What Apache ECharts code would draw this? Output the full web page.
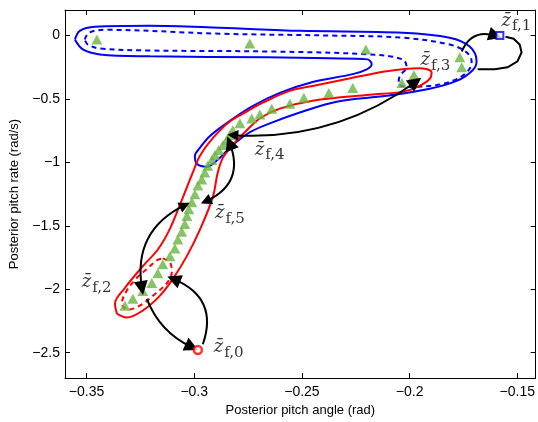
<!DOCTYPE html>
<html>
<head>
<meta charset="utf-8">
<script src="https://cdn.jsdelivr.net/npm/echarts@6/dist/echarts.min.js"></script>
<style>
html, body { margin: 0; padding: 0; background: #fff; }
#chart { width: 538px; height: 422px; }
</style>
</head>
<body>
<div id="chart"></div>
<script>
//刻度
var xTicks = [-0.35, -0.3, -0.25, -0.2, -0.15];
var yTicks = [0, -0.5, -1, -1.5, -2, -2.5];

//绿色三角: 后验样本
var samples = [
    [-0.3452, -0.033], [-0.2742, -0.064], [-0.2203, -0.111], [-0.1767, -0.173],
    [-0.1758, -0.251], [-0.1980, -0.312], [-0.2036, -0.375], [-0.2264, -0.414],
    [-0.2375, -0.453], [-0.2491, -0.491], [-0.2556, -0.538], [-0.2640, -0.577],
    [-0.2695, -0.624], [-0.2733, -0.655], [-0.2788, -0.693], [-0.2821, -0.748],
    [-0.2835, -0.786], [-0.2849, -0.825], [-0.2867, -0.864], [-0.2886, -0.903],
    [-0.2904, -0.942], [-0.2918, -0.981], [-0.2937, -1.027], [-0.2951, -1.081],
    [-0.2965, -1.136], [-0.2983, -1.182], [-0.2997, -1.252], [-0.3011, -1.314],
    [-0.3025, -1.369], [-0.3034, -1.423], [-0.3044, -1.485], [-0.3058, -1.547],
    [-0.3076, -1.609], [-0.3090, -1.679], [-0.3113, -1.741], [-0.3146, -1.803],
    [-0.3169, -1.873], [-0.3197, -1.950], [-0.3239, -2.013], [-0.3285, -2.075],
    [-0.3322, -2.130]
];

//等高线
var blueOuter = [
    [-0.3554, -0.033], [-0.3531, 0.036], [-0.3461, 0.068], [-0.3206, 0.075],
    [-0.2881, 0.060], [-0.2510, 0.036], [-0.2032, 0.021], [-0.1814, -0.018],
    [-0.1721, -0.088], [-0.1689, -0.204], [-0.1707, -0.274], [-0.1782, -0.359],
    [-0.1907, -0.421], [-0.2107, -0.476], [-0.2339, -0.522], [-0.2496, -0.600],
    [-0.2649, -0.693], [-0.2742, -0.763], [-0.2826, -0.872], [-0.2891, -0.980],
    [-0.2942, -1.035], [-0.2988, -1.012], [-0.2997, -0.950], [-0.2974, -0.887],
    [-0.2928, -0.794], [-0.2844, -0.685], [-0.2733, -0.561], [-0.2603, -0.453],
    [-0.2450, -0.367], [-0.2264, -0.305], [-0.2199, -0.267], [-0.2176, -0.228],
    [-0.2195, -0.189], [-0.2371, -0.181], [-0.2663, -0.173], [-0.3206, -0.165],
    [-0.3438, -0.150], [-0.3517, -0.111], [-0.3554, -0.033]
];
var blueInner = [
    [-0.3508, -0.033], [-0.3489, 0.021], [-0.3415, 0.044], [-0.2881, 0.013],
    [-0.2339, -0.002], [-0.2032, -0.018], [-0.1814, -0.072], [-0.1735, -0.134],
    [-0.1712, -0.204], [-0.1726, -0.274], [-0.1782, -0.344], [-0.1874, -0.391],
    [-0.2000, -0.406], [-0.2051, -0.383], [-0.2046, -0.321], [-0.2014, -0.251],
    [-0.2032, -0.189], [-0.2185, -0.150], [-0.2649, -0.127], [-0.3206, -0.119],
    [-0.3438, -0.103], [-0.3494, -0.072], [-0.3508, -0.033]
];
var redOuter = [
    [-0.3359, -2.192], [-0.3368, -2.114], [-0.3322, -1.990], [-0.3239, -1.819],
    [-0.3169, -1.687], [-0.3113, -1.524], [-0.3058, -1.299], [-0.3007, -1.082],
    [-0.2974, -0.950], [-0.2914, -0.810], [-0.2835, -0.678], [-0.2756, -0.600],
    [-0.2682, -0.530], [-0.2557, -0.437], [-0.2450, -0.398], [-0.2292, -0.344],
    [-0.2107, -0.282], [-0.1954, -0.259], [-0.1898, -0.290], [-0.1907, -0.344],
    [-0.1963, -0.406], [-0.2032, -0.445], [-0.2185, -0.468], [-0.2450, -0.515],
    [-0.2603, -0.577], [-0.2696, -0.655], [-0.2756, -0.748], [-0.2821, -0.864],
    [-0.2867, -0.965], [-0.2891, -1.082], [-0.2914, -1.276], [-0.2974, -1.532],
    [-0.3035, -1.741], [-0.3100, -1.920], [-0.3160, -2.052], [-0.3239, -2.168],
    [-0.3313, -2.223], [-0.3359, -2.192]
];
var redInner = [
    [-0.3146, -1.757], [-0.3113, -1.788], [-0.3104, -1.866], [-0.3127, -1.951],
    [-0.3192, -2.052], [-0.3253, -2.130], [-0.3308, -2.161], [-0.3336, -2.114],
    [-0.3322, -2.036], [-0.3276, -1.928], [-0.3216, -1.835], [-0.3174, -1.773],
    [-0.3146, -1.757]
];

//迭代点
var zf0 = [[-0.2983, -2.479]];
var zf1 = [[-0.1581, 0.0]];

//箭头 (起点, 终点)
var arrowsOneWay = [
    [[-0.3220, -2.075], [-0.3011, -2.456]],
    [[-0.2960, -2.433], [-0.3095, -1.920]],
    [[-0.1758, -0.127], [-0.1601, -0.002]]
];
var arrowsTwoWay = [
    [[-0.3044, -1.338], [-0.3243, -1.990]],
    [[-0.2946, -1.307], [-0.2835, -0.849]],
    [[-0.2821, -0.786], [-0.1972, -0.367]]
];
var oneWayCurve = [-0.2, -0.47, 0.45];
var twoWayCurve = [-0.37, -0.47, -0.18];
//z_f1 -> z_f3 的回环
var loopArrow = [
    [-0.1555, -0.010], [-0.1517, -0.026], [-0.1489, -0.072], [-0.1480, -0.134],
    [-0.1499, -0.204], [-0.1545, -0.251], [-0.1605, -0.266], [-0.1684, -0.266]
];

//标注
var labelNames = ['0', '1', '2', '3', '4', '5'];
var labelAnchors = [
    [-0.2909, -2.46], [-0.1573, 0.114], [-0.3522, -1.945],
    [-0.1949, -0.196], [-0.2719, -0.903], [-0.2904, -1.401]
];

var chart = echarts.init(document.getElementById('chart'));

function fmt(v) {
    if (v === 0) return '0';
    return String(v).replace('-', '\u2212');
}

var tickFont = { color: '#000', fontSize: 14, fontFamily: 'Liberation Sans' };

function contour(data, color, dashed) {
    return {
        type: 'line',
        data: data,
        smooth: 0.35,
        showSymbol: false,
        silent: true,
        z: 2,
        lineStyle: { color: color, width: 2, type: dashed ? [5, 4] : 'solid' }
    };
}

var series = [
    contour(blueOuter, '#0000ff', false),
    contour(blueInner, '#0000ff', true),
    contour(redOuter, '#ff0000', false),
    contour(redInner, '#ff0000', true),
    {
        type: 'scatter',
        data: samples,
        symbol: 'triangle',
        symbolSize: [11, 10],
        itemStyle: { color: '#6ab441' },
        z: 3
    }
];

//箭头
arrowsOneWay.forEach(function(a, i) {
    series.push({
        type: 'lines',
        coordinateSystem: 'cartesian2d',
        data: [{ coords: a }],
        symbol: ['none', 'triangle'],
        symbolSize: [11, 14],
        lineStyle: { color: '#000', width: 2, curveness: oneWayCurve[i], opacity: 1 },
        z: 4
    });
});
arrowsTwoWay.forEach(function(a, i) {
    series.push({
        type: 'lines',
        coordinateSystem: 'cartesian2d',
        data: [{ coords: a }],
        symbol: ['triangle', 'triangle'],
        symbolSize: [11, 14],
        lineStyle: { color: '#000', width: 2, curveness: twoWayCurve[i], opacity: 1 },
        z: 4
    });
});
series.push({
    type: 'lines',
    coordinateSystem: 'cartesian2d',
    polyline: true,
    data: [{ coords: loopArrow }],
    symbol: ['none', 'triangle'],
    symbolSize: [11, 14],
    lineStyle: { color: '#000', width: 2, opacity: 1 },
    z: 4
});

series.push({
    type: 'scatter',
    data: zf0,
    symbol: 'circle',
    symbolSize: 8,
    itemStyle: { color: '#fff', borderColor: '#ff0000', borderWidth: 2.5 },
    z: 5
});
series.push({
    type: 'scatter',
    data: zf1,
    symbol: 'rect',
    symbolSize: 7,
    itemStyle: { color: '#fff', borderColor: '#0000ff', borderWidth: 2 },
    z: 5
});

series.push({
    type: 'scatter',
    data: labelAnchors.map(function(p, i) { return { value: p, name: labelNames[i] }; }),
    symbolSize: 0,
    silent: true,
    z: 6,
    label: {
        show: true,
        position: [0, 0],
        align: 'left',
        verticalAlign: 'middle',
        formatter: function(p) {
            return '{z|z\u0304}{s|f,' + p.name + '}';
        },
        rich: {
            z: { fontFamily: 'DejaVu Serif', fontStyle: 'italic', fontSize: 18, color: '#000', lineHeight: 20 },
            s: { fontFamily: 'DejaVu Serif', fontSize: 15, color: '#000', padding: [11, 0, 0, 1], lineHeight: 15 }
        }
    }
});

var option = {
    animation: false,
    backgroundColor: '#fff',
    grid: { left: 65, top: 10, right: 2, bottom: 39 },
    xAxis: [{
        type: 'value',
        min: -0.36,
        max: -0.1415,
        position: 'bottom',
        name: 'Posterior pitch angle (rad)',
        nameLocation: 'middle',
        nameGap: 22,
        nameTextStyle: { color: '#000', fontSize: 13, fontFamily: 'Liberation Sans' },
        axisLine: { onZero: false, lineStyle: { color: '#000', width: 1 } },
        axisTick: { inside: true, length: 5, customValues: xTicks, lineStyle: { color: '#000' } },
        axisLabel: Object.assign({ customValues: xTicks, margin: 7, formatter: fmt }, tickFont),
        splitLine: { show: false }
    }, {
        type: 'value',
        min: -0.36,
        max: -0.1415,
        position: 'top',
        axisLine: { onZero: false, lineStyle: { color: '#000', width: 1 } },
        axisTick: { inside: true, length: 5, customValues: xTicks, lineStyle: { color: '#000' } },
        axisLabel: { show: false },
        splitLine: { show: false }
    }],
    yAxis: [{
        type: 'value',
        min: -2.7,
        max: 0.2,
        position: 'left',
        name: 'Posterior pitch rate (rad/s)',
        nameLocation: 'middle',
        nameGap: 44,
        nameTextStyle: { color: '#000', fontSize: 13, fontFamily: 'Liberation Sans' },
        axisLine: { onZero: false, lineStyle: { color: '#000', width: 1 } },
        axisTick: { inside: true, length: 5, customValues: yTicks, lineStyle: { color: '#000' } },
        axisLabel: Object.assign({ customValues: yTicks, margin: 5, formatter: fmt }, tickFont),
        splitLine: { show: false }
    }, {
        type: 'value',
        min: -2.7,
        max: 0.2,
        position: 'right',
        axisLine: { onZero: false, lineStyle: { color: '#000', width: 1 } },
        axisTick: { inside: true, length: 5, customValues: yTicks, lineStyle: { color: '#000' } },
        axisLabel: { show: false },
        splitLine: { show: false }
    }],
    series: series
};

chart.setOption(option);
</script>
</body>
</html>
